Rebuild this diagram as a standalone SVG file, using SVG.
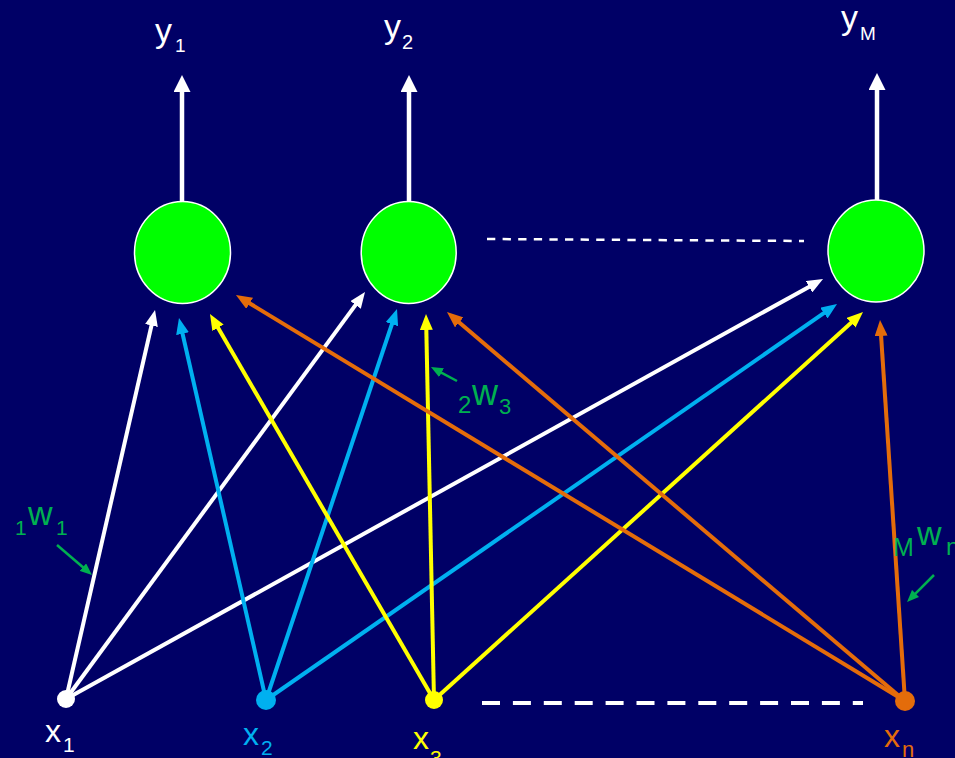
<svg xmlns="http://www.w3.org/2000/svg" width="955" height="758" viewBox="0 0 955 758">
<style>
.lbl{font-family:"Liberation Sans",Arial,sans-serif;}
.wt{fill:#ffffff}
.bl{fill:#00b0f0}
.ye{fill:#ffff00}
.or{fill:#e46c0a}
.gr{fill:#00b050}
.neuron{fill:#00ff00;stroke:#ffffff;stroke-width:1.5}
.c{fill:none;stroke-width:4}
.cw{stroke:#ffffff;marker-end:url(#aw)}
.cb{stroke:#00b0f0;marker-end:url(#ab)}
.cy{stroke:#ffff00;marker-end:url(#ay)}
.co{stroke:#e46c0a;marker-end:url(#ao)}
.out{stroke:#ffffff;stroke-width:4.5;marker-end:url(#aout)}
.gline{stroke:#00b050;stroke-width:2.5;marker-end:url(#ag)}
</style>
<defs>
<marker id="aw" markerUnits="userSpaceOnUse" markerWidth="16" markerHeight="13" refX="6" refY="6.5" orient="auto"><path d="M0,0 L16,6.5 L0,13 z" fill="#ffffff"/></marker>
<marker id="ab" markerUnits="userSpaceOnUse" markerWidth="16" markerHeight="13" refX="6" refY="6.5" orient="auto"><path d="M0,0 L16,6.5 L0,13 z" fill="#00b0f0"/></marker>
<marker id="ay" markerUnits="userSpaceOnUse" markerWidth="16" markerHeight="13" refX="6" refY="6.5" orient="auto"><path d="M0,0 L16,6.5 L0,13 z" fill="#ffff00"/></marker>
<marker id="ao" markerUnits="userSpaceOnUse" markerWidth="16" markerHeight="13" refX="6" refY="6.5" orient="auto"><path d="M0,0 L16,6.5 L0,13 z" fill="#e46c0a"/></marker>
<marker id="aout" markerUnits="userSpaceOnUse" markerWidth="17" markerHeight="17" refX="5" refY="8.5" orient="auto"><path d="M0,0 L17,8.5 L0,17 z" fill="#ffffff"/></marker>
<marker id="ag" markerUnits="userSpaceOnUse" markerWidth="12" markerHeight="10" refX="4" refY="5" orient="auto"><path d="M0,0 L12,5 L0,10 z" fill="#00b050"/></marker>
</defs>
<rect x="0" y="0" width="955" height="758" fill="#000066"/>

<g id="connectors">
<line class="c cw" x1="66" y1="699" x2="152.8" y2="319.7"/>
<line class="c cw" x1="66" y1="699" x2="359.1" y2="300.1"/>
<line class="c cw" x1="66" y1="699" x2="814.3" y2="283.9"/>
<line class="c cb" x1="266" y1="700" x2="181.2" y2="327.8"/>
<line class="c cb" x1="266" y1="700" x2="393.8" y2="318.5"/>
<line class="c cb" x1="266" y1="700" x2="828.8" y2="309.7"/>
<line class="c cy" x1="434" y1="700" x2="215.0" y2="322.6"/>
<line class="c cy" x1="434" y1="700" x2="426.2" y2="324"/>
<line class="c cy" x1="434" y1="700" x2="855.6" y2="318.7"/>
<line class="c co" x1="905" y1="701" x2="244.5" y2="300.2"/>
<line class="c co" x1="905" y1="701" x2="454.6" y2="318.5"/>
<line class="c co" x1="905" y1="701" x2="880.7" y2="330"/>
<line class="out" x1="182" y1="203" x2="182" y2="87"/>
<line class="out" x1="409" y1="203" x2="409" y2="87"/>
<line class="out" x1="877" y1="201" x2="877" y2="85"/>
<line x1="487" y1="239" x2="804" y2="241" stroke="#ffffff" stroke-width="2.5" stroke-dasharray="8.3 7.3"/>
<line x1="482" y1="703" x2="863" y2="703" stroke="#ffffff" stroke-width="4" stroke-dasharray="18 12.9"/>
<line class="gline" x1="57" y1="545" x2="85.9" y2="569.8"/>
<line class="gline" x1="457" y1="381" x2="438" y2="370.8"/>
<line class="gline" x1="934" y1="575" x2="912.7" y2="596.3"/>
</g>

<g id="neuron1"><ellipse class="neuron" cx="182.5" cy="252.5" rx="48" ry="51"/></g>
<g id="neuron2"><ellipse class="neuron" cx="408.7" cy="252.5" rx="47.5" ry="51"/></g>
<g id="neuronM"><ellipse class="neuron" cx="876" cy="251" rx="48" ry="51"/></g>

<g id="out1"><text class="lbl wt" x="155" y="42" font-size="34">y</text><text class="lbl wt" x="175" y="52" font-size="19">1</text></g>
<g id="out2"><text class="lbl wt" x="384" y="38" font-size="34">y</text><text class="lbl wt" x="402" y="49" font-size="20">2</text></g>
<g id="outM"><text class="lbl wt" x="841" y="29" font-size="34">y</text><text class="lbl wt" x="860" y="40" font-size="19">M</text></g>

<g id="in1"><circle cx="66" cy="699" r="9" fill="#ffffff"/><text class="lbl wt" x="45" y="742" font-size="32">x</text><text class="lbl wt" x="63" y="752" font-size="21">1</text></g>
<g id="in2"><circle cx="266" cy="700" r="10" fill="#00b0f0"/><text class="lbl bl" x="243" y="745" font-size="32">x</text><text class="lbl bl" x="261" y="755" font-size="21">2</text></g>
<g id="in3"><circle cx="434" cy="700" r="9" fill="#ffff00"/><text class="lbl ye" x="413" y="749" font-size="32">x</text><text class="lbl ye" x="430" y="765" font-size="21">3</text></g>
<g id="inN"><circle cx="905" cy="701" r="10" fill="#e46c0a"/><text class="lbl or" x="884" y="747" font-size="32">x</text><text class="lbl or" x="902" y="757" font-size="22">n</text></g>

<g id="w11"><text class="lbl gr" x="15" y="535" font-size="21">1</text><text class="lbl gr" x="28" y="525" font-size="34">w</text><text class="lbl gr" x="56" y="535" font-size="21">1</text></g>
<g id="w23"><text class="lbl gr" x="458" y="413" font-size="24">2</text><text class="lbl gr" x="472" y="405" font-size="36">w</text><text class="lbl gr" x="499" y="414" font-size="22">3</text></g>
<g id="wMn"><text class="lbl gr" x="893" y="556" font-size="25">M</text><text class="lbl gr" x="917" y="545" font-size="34">w</text><text class="lbl gr" x="946" y="555" font-size="24">n</text></g>
</svg>
